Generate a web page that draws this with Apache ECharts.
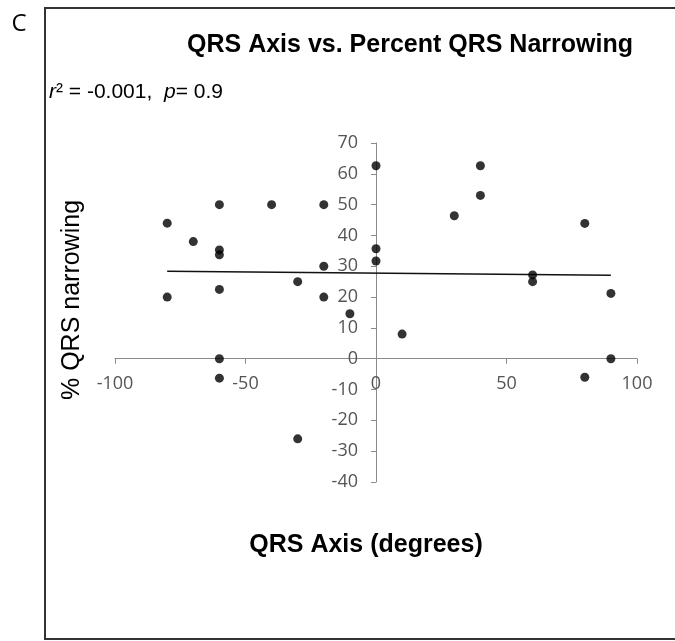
<!DOCTYPE html>
<html><head><meta charset="utf-8">
<script src="https://cdn.jsdelivr.net/npm/echarts@6/dist/echarts.min.js"></script>
<style>html,body{margin:0;padding:0;background:#fff}#c{width:675px;height:641px}</style>
</head><body><div id="c"></div>
<script>
const panelLabel = 'C';
const chartTitle = 'QRS Axis vs. Percent QRS Narrowing';
const xAxisTitle = 'QRS Axis (degrees)';
const yAxisTitle = '% QRS narrowing';
const statsPrefix = '² = -0.001,  ';
const statsSuffix = '= 0.9';
const xTicks = [-100, -50, 0, 50, 100];
const yTicks = [-40, -30, -20, -10, 0, 10, 20, 30, 40, 50, 60, 70];
const qrsAxis =      [-80, -80, -70, -60, -60, -60, -60, -60, -60, -40, -30, -30, -20, -20, -20, -10,  0,  0,  0, 10, 30, 40, 40, 60, 60, 80, 80, 90, 90];
const qrsNarrowing = [ 44,  20,  38,  50, 35.3, 33.7, 22.5, 0, -6.3, 50,  25, -26,  50,  30,  20, 14.6, 62.6, 35.7, 31.7, 8, 46.4, 62.6, 53, 27.2, 25, 43.9, -6, 21.2, 0];
const trendX = [-80, 90];
const trendY = [28.4, 27.1];

const chart = echarts.init(document.getElementById('c'), null, {renderer: 'canvas'});
const axisGray = '#8a8a8a';
const labelGray = '#555';
const tickFont = '"Open Sans", "DejaVu Sans", sans-serif';
const titleFont = '"Liberation Sans", Arial, sans-serif';

const gridLeft = 115, gridRight = 38, gridTop = 143, gridBottom = 159;
const W = 675, H = 641;
const plotW = W - gridLeft - gridRight, plotH = H - gridTop - gridBottom;
// place axis lines where the other axis is zero
const xMin = xTicks[0], xMax = xTicks[xTicks.length - 1];
const yMin = yTicks[0], yMax = yTicks[yTicks.length - 1];
const xAxisOffset = -plotH * (0 - yMin) / (yMax - yMin);
const yAxisOffset = -plotW * (0 - xMin) / (xMax - xMin);

chart.setOption({
  animation: false,
  backgroundColor: '#fff',
  grid: {left: gridLeft, right: gridRight, top: gridTop, bottom: gridBottom, containLabel: false},
  xAxis: {
    type: 'value', min: xMin, max: xMax, interval: xTicks[1] - xTicks[0],
    position: 'bottom', offset: xAxisOffset,
    axisLine: {show: true, onZero: false, lineStyle: {color: axisGray, width: 1}},
    axisTick: {show: true, length: 5, inside: false, lineStyle: {color: axisGray}},
    axisLabel: {margin: 16, color: labelGray, fontSize: 18, fontFamily: tickFont, formatter: v => String(v)},
    splitLine: {show: false}
  },
  yAxis: {
    type: 'value', min: yMin, max: yMax, interval: yTicks[1] - yTicks[0],
    position: 'left', offset: yAxisOffset,
    axisLine: {show: true, onZero: false, lineStyle: {color: axisGray, width: 1}},
    axisTick: {show: true, length: 5, inside: false, lineStyle: {color: axisGray}},
    axisLabel: {margin: 18, color: labelGray, fontSize: 18, fontFamily: tickFont, formatter: v => String(v)},
    splitLine: {show: false}
  },
  series: [
    {
      type: 'line', data: trendX.map((x, i) => [x, trendY[i]]), symbol: 'none',
      lineStyle: {color: '#111', width: 1.5}, z: 2, silent: true
    },
    {
      type: 'scatter', data: qrsAxis.map((x, i) => [x, qrsNarrowing[i]]),
      symbol: 'circle', symbolSize: 9, itemStyle: {color: '#000'}, z: 3
    }
  ],
  graphic: [
    {type: 'rect', silent: true, shape: {x: 45, y: 8, width: 650, height: 631},
     style: {fill: 'none', stroke: '#333', lineWidth: 2}},
    {type: 'text', silent: true, x: 19, y: 24,
     style: {text: panelLabel, fill: '#000', font: '24px "Open Sans", sans-serif', textAlign: 'center', textVerticalAlign: 'middle'}},
    {type: 'text', silent: true, x: 410, y: 45,
     style: {text: chartTitle, fill: '#000', font: 'bold 25px ' + titleFont, textAlign: 'center', textVerticalAlign: 'middle'}},
    {type: 'text', silent: true, x: 49, y: 92,
     style: {text: '{i|r}{n|' + statsPrefix + '}{i|p}{n|' + statsSuffix + '}',
       fill: '#000', font: '21px ' + titleFont, textAlign: 'left', textVerticalAlign: 'middle',
       rich: {
         i: {fontStyle: 'italic', fontSize: 21, fontFamily: '"Liberation Sans", Arial, sans-serif', fill: '#000', color: '#000'},
         n: {fontSize: 21, fontFamily: '"Liberation Sans", Arial, sans-serif', fill: '#000', color: '#000'}
       }}},
    {type: 'text', silent: true, x: 366, y: 545,
     style: {text: xAxisTitle, fill: '#000', font: 'bold 25px ' + titleFont, textAlign: 'center', textVerticalAlign: 'middle'}},
    {type: 'text', silent: true, x: 72, y: 300, rotation: Math.PI / 2,
     style: {text: yAxisTitle, fill: '#000', font: '25px ' + titleFont, textAlign: 'center', textVerticalAlign: 'middle'}}
  ]
});
</script>
</body></html>
